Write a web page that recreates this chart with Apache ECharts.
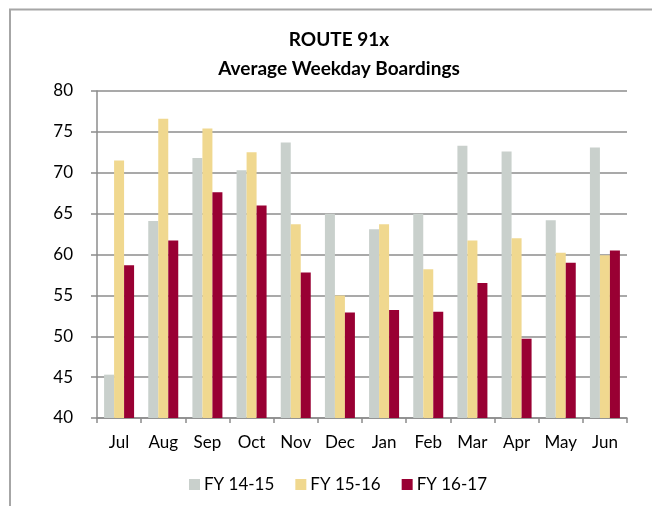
<!DOCTYPE html>
<html>
<head>
<meta charset="utf-8">
<script src="https://cdn.jsdelivr.net/npm/echarts@6.0.0/dist/echarts.min.js"></script>
<style>
  html, body { margin: 0; padding: 0; background: #fff; }
  #chart { width: 652px; height: 506px; }
</style>
</head>
<body>
<div id="chart"></div>
<script>
// Route 91x average weekday boardings, by fiscal year
const months = ['Jul', 'Aug', 'Sep', 'Oct', 'Nov', 'Dec', 'Jan', 'Feb', 'Mar', 'Apr', 'May', 'Jun'];
const fy1415 = [45.3, 64.1, 71.8, 70.3, 73.7, 65.0, 63.1, 65.0, 73.3, 72.6, 64.2, 73.1];
const fy1516 = [71.5, 76.6, 75.4, 72.5, 63.7, 55.0, 63.7, 58.2, 61.7, 62.0, 60.2, 59.9];
const fy1617 = [58.7, 61.7, 67.6, 66.0, 57.8, 52.9, 53.2, 53.0, 56.5, 49.7, 59.0, 60.5];
const seriesNames = ['FY 14-15', 'FY 15-16', 'FY 16-17'];
const colors = ['#C9D0CC', '#F0D88F', '#990033'];

const font = 'Lato, "Liberation Sans", sans-serif';
const chart = echarts.init(document.getElementById('chart'));

function bar(name, data, color) {
  return {
    name: name,
    type: 'bar',
    data: data,
    barWidth: 10,
    barGap: '0%',
    itemStyle: { color: color },
    emphasis: { disabled: true }
  };
}

chart.setOption({
  animation: false,
  backgroundColor: '#fff',
  color: colors,
  title: {
    text: 'ROUTE 91x\nAverage Weekday Boardings',
    left: 334,
    textAlign: 'center',
    top: 20,
    textStyle: { fontFamily: font, fontSize: 19, fontWeight: 'bold', color: '#000', lineHeight: 29 }
  },
  legend: {
    bottom: 8,
    left: 184,
    itemWidth: 11,
    itemHeight: 11,
    itemGap: 21,
    icon: 'rect',
    textStyle: { fontFamily: font, fontSize: 17, color: '#000', padding: [0, 0, 0, -1] },
    data: seriesNames
  },
  grid: { left: 97, right: 25, top: 91, bottom: 88, containLabel: false },
  xAxis: {
    type: 'category',
    data: months,
    axisLine: { lineStyle: { color: '#8C8C8C', width: 1.5 } },
    axisTick: { show: true, length: 5, lineStyle: { color: '#8C8C8C', width: 1.5 } },
    axisLabel: { fontFamily: font, fontSize: 17, color: '#000', margin: 16 }
  },
  yAxis: {
    type: 'value',
    min: 40,
    max: 80,
    interval: 5,
    axisLine: { show: true, lineStyle: { color: '#8C8C8C', width: 1.5 } },
    axisTick: { show: true, length: 6, lineStyle: { color: '#8C8C8C', width: 1.5 } },
    axisLabel: { fontFamily: font, fontSize: 17, color: '#000', margin: 24 },
    splitLine: { lineStyle: { color: '#8C8C8C', width: 1.5 } }
  },
  graphic: [
    { type: 'line', shape: { x1: 9, y1: 9.5, x2: 652, y2: 9.5 }, style: { stroke: '#A6A6A6', lineWidth: 2 } },
    { type: 'line', shape: { x1: 10, y1: 9, x2: 10, y2: 506 }, style: { stroke: '#A6A6A6', lineWidth: 2 } }
  ],
  series: [
    bar(seriesNames[0], fy1415, colors[0]),
    bar(seriesNames[1], fy1516, colors[1]),
    bar(seriesNames[2], fy1617, colors[2])
  ]
});
</script>
</body>
</html>
